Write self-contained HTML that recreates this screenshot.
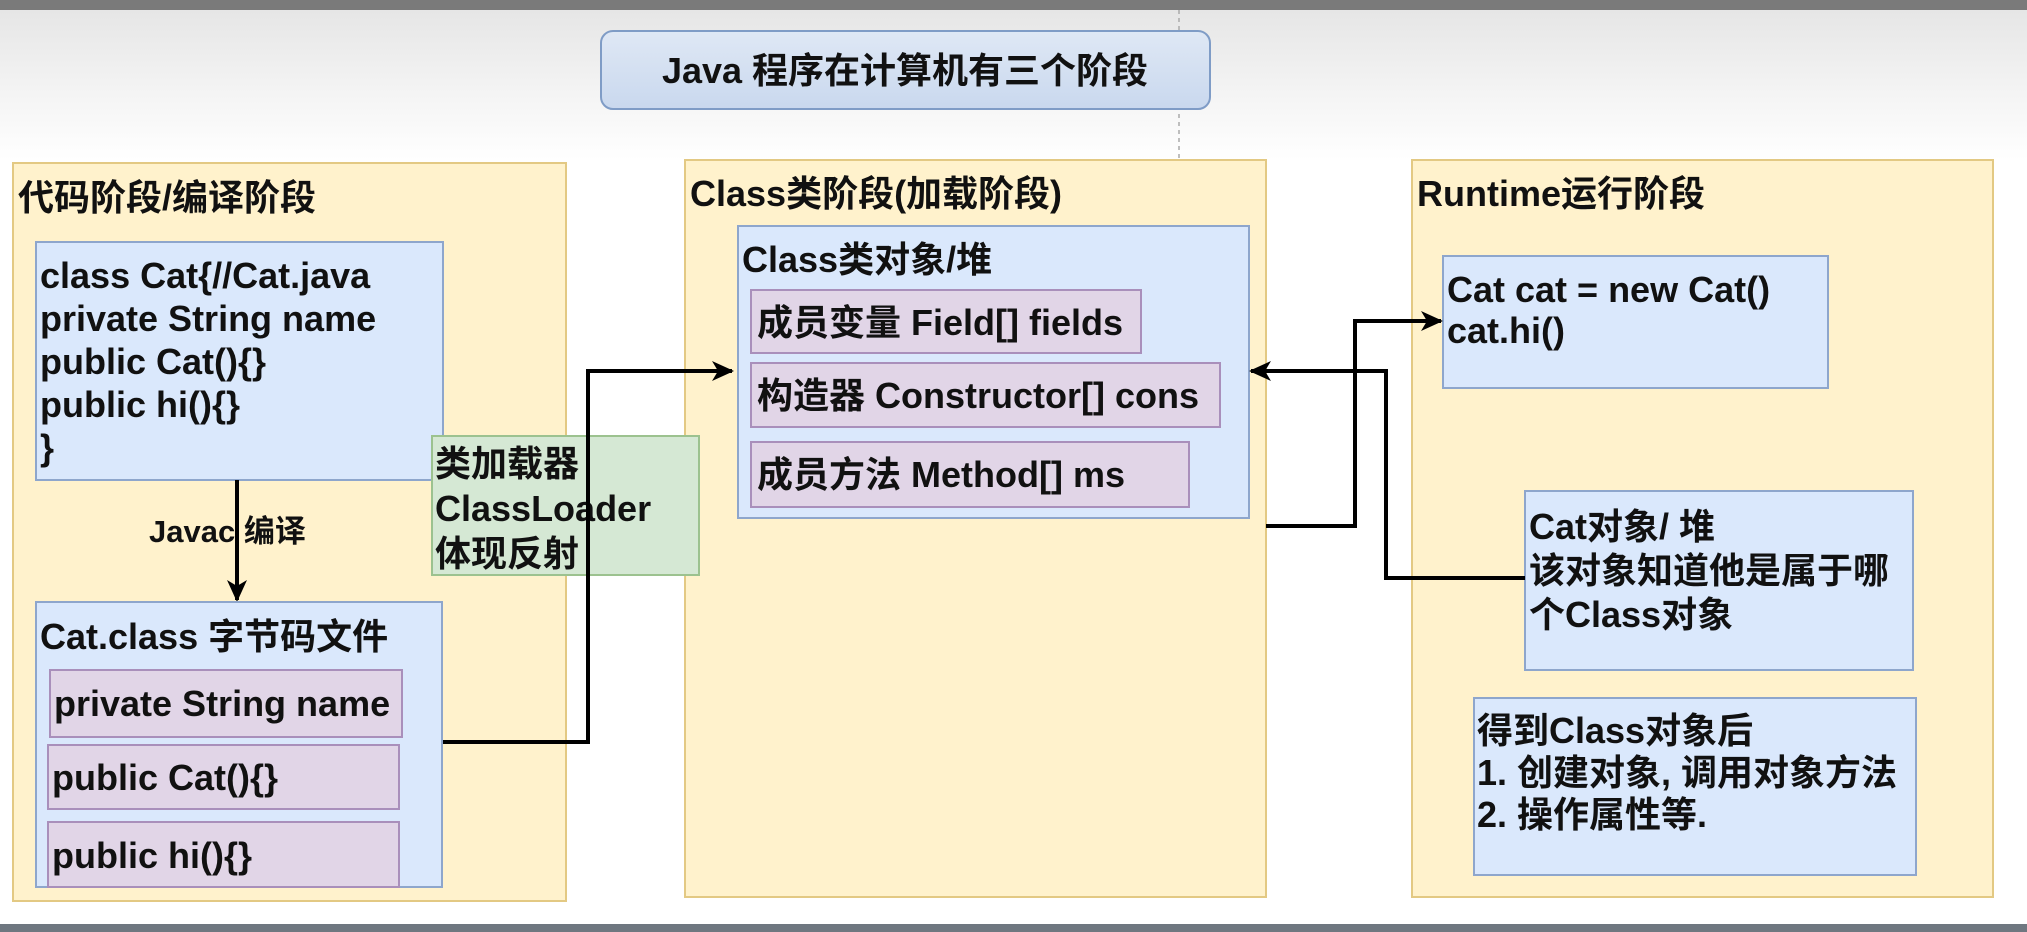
<!DOCTYPE html>
<html><head><meta charset="utf-8"><style>
html,body{margin:0;padding:0;background:#fff}
svg{display:block}
text{font-family:"Liberation Sans","Noto Sans CJK SC",sans-serif;font-weight:bold;fill:#111}
</style></head><body>
<svg width="2027" height="932" viewBox="0 0 2027 932" xmlns="http://www.w3.org/2000/svg">
<defs>
<linearGradient id="bg" x1="0" y1="0" x2="0" y2="1"><stop offset="0" stop-color="#e6e6e6"/><stop offset="1" stop-color="#ffffff"/></linearGradient>
<linearGradient id="tb" x1="0" y1="0" x2="0" y2="1"><stop offset="0" stop-color="#dfe8f5"/><stop offset="1" stop-color="#c9d8ee"/></linearGradient>
<marker id="ar" markerWidth="22" markerHeight="20" refX="20" refY="10" orient="auto" markerUnits="userSpaceOnUse" viewBox="0 0 22 20"><path d="M0,0 L22,10 L0,20 L6,10 z" fill="#000"/></marker>
</defs>
<rect x="0" y="0" width="2027" height="932" fill="#fff"/>
<rect x="0" y="10" width="2027" height="150" fill="url(#bg)"/>
<rect x="0" y="0" width="2027" height="10" fill="#7a7a7a"/>
<rect x="0" y="924" width="2027" height="8" fill="#6f7780"/>
<line x1="1179" y1="10" x2="1179" y2="160" stroke="#aaa" stroke-width="1.5" stroke-dasharray="4,4"/>
<rect x="601" y="31" width="609" height="78" rx="12" fill="url(#tb)" stroke="#7f9cc6" stroke-width="2"/>
<text x="905" y="83" font-size="36" text-anchor="middle">Java 程序在计算机有三个阶段</text>

<g font-size="36">
<!-- panel 1 -->
<rect x="13" y="163" width="553" height="738" fill="#fff2cc" stroke="#e3c983" stroke-width="2"/>
<text x="18" y="210">代码阶段/编译阶段</text>
<rect x="36" y="242" width="407" height="238" fill="#dae8fc" stroke="#8ea6cc" stroke-width="2"/>
<text><tspan x="40" y="288">class Cat{//Cat.java</tspan><tspan x="40" y="331">private String name</tspan><tspan x="40" y="374">public Cat(){}</tspan><tspan x="40" y="417">public hi(){}</tspan><tspan x="40" y="460">}</tspan></text>
<line x1="237" y1="480" x2="237" y2="600" stroke="#000" stroke-width="4" marker-end="url(#ar)"/>
<text x="149" y="542" font-size="31">Javac 编译</text>
<rect x="36" y="602" width="406" height="285" fill="#dae8fc" stroke="#8ea6cc" stroke-width="2"/>
<text x="40" y="649">Cat.class 字节码文件</text>
<rect x="50" y="670" width="352" height="67" fill="#e1d5e7" stroke="#a98fbb" stroke-width="2"/>
<text x="54" y="716">private String name</text>
<rect x="48" y="745" width="351" height="64" fill="#e1d5e7" stroke="#a98fbb" stroke-width="2"/>
<text x="52" y="790">public Cat(){}</text>
<rect x="48" y="822" width="351" height="65" fill="#e1d5e7" stroke="#a98fbb" stroke-width="2"/>
<text x="52" y="868">public hi(){}</text>

<!-- panel 2 -->
<rect x="685" y="160" width="581" height="737" fill="#fff2cc" stroke="#e3c983" stroke-width="2"/>
<text x="690" y="206">Class类阶段(加载阶段)</text>
<rect x="738" y="226" width="511" height="292" fill="#dae8fc" stroke="#8ea6cc" stroke-width="2"/>
<text x="742" y="272">Class类对象/堆</text>
<rect x="751" y="290" width="390" height="63" fill="#e1d5e7" stroke="#a98fbb" stroke-width="2"/>
<text x="757" y="335">成员变量 Field[] fields</text>
<rect x="751" y="363" width="469" height="64" fill="#e1d5e7" stroke="#a98fbb" stroke-width="2"/>
<text x="757" y="408">构造器 Constructor[] cons</text>
<rect x="751" y="442" width="438" height="65" fill="#e1d5e7" stroke="#a98fbb" stroke-width="2"/>
<text x="757" y="487">成员方法 Method[] ms</text>

<!-- classloader -->
<rect x="432" y="436" width="267" height="139" fill="#d5e8d4" stroke="#9cc28f" stroke-width="2"/>
<text><tspan x="435" y="476">类加载器</tspan><tspan x="435" y="521">ClassLoader</tspan><tspan x="435" y="566">体现反射</tspan></text>
<polyline points="443,742 588,742 588,371 732,371" fill="none" stroke="#000" stroke-width="4" marker-end="url(#ar)"/>

<!-- panel 3 -->
<rect x="1412" y="160" width="581" height="737" fill="#fff2cc" stroke="#e3c983" stroke-width="2"/>
<text x="1417" y="206">Runtime运行阶段</text>
<rect x="1443" y="256" width="385" height="132" fill="#dae8fc" stroke="#8ea6cc" stroke-width="2"/>
<text><tspan x="1447" y="302">Cat cat = new Cat()</tspan><tspan x="1447" y="343">cat.hi()</tspan></text>
<rect x="1525" y="491" width="388" height="179" fill="#dae8fc" stroke="#8ea6cc" stroke-width="2"/>
<text><tspan x="1529" y="539">Cat对象/ 堆</tspan><tspan x="1529" y="583">该对象知道他是属于哪</tspan><tspan x="1529" y="627">个Class对象</tspan></text>
<rect x="1474" y="698" width="442" height="177" fill="#dae8fc" stroke="#8ea6cc" stroke-width="2"/>
<text><tspan x="1477" y="743">得到Class对象后</tspan><tspan x="1477" y="785">1. 创建对象, 调用对象方法</tspan><tspan x="1477" y="827">2. 操作属性等.</tspan></text>
</g>

<polyline points="1266,526 1355,526 1355,321 1441,321" fill="none" stroke="#000" stroke-width="4" marker-end="url(#ar)"/>
<polyline points="1525,578 1386,578 1386,371 1251,371" fill="none" stroke="#000" stroke-width="4" marker-end="url(#ar)"/>
</svg>
</body></html>
